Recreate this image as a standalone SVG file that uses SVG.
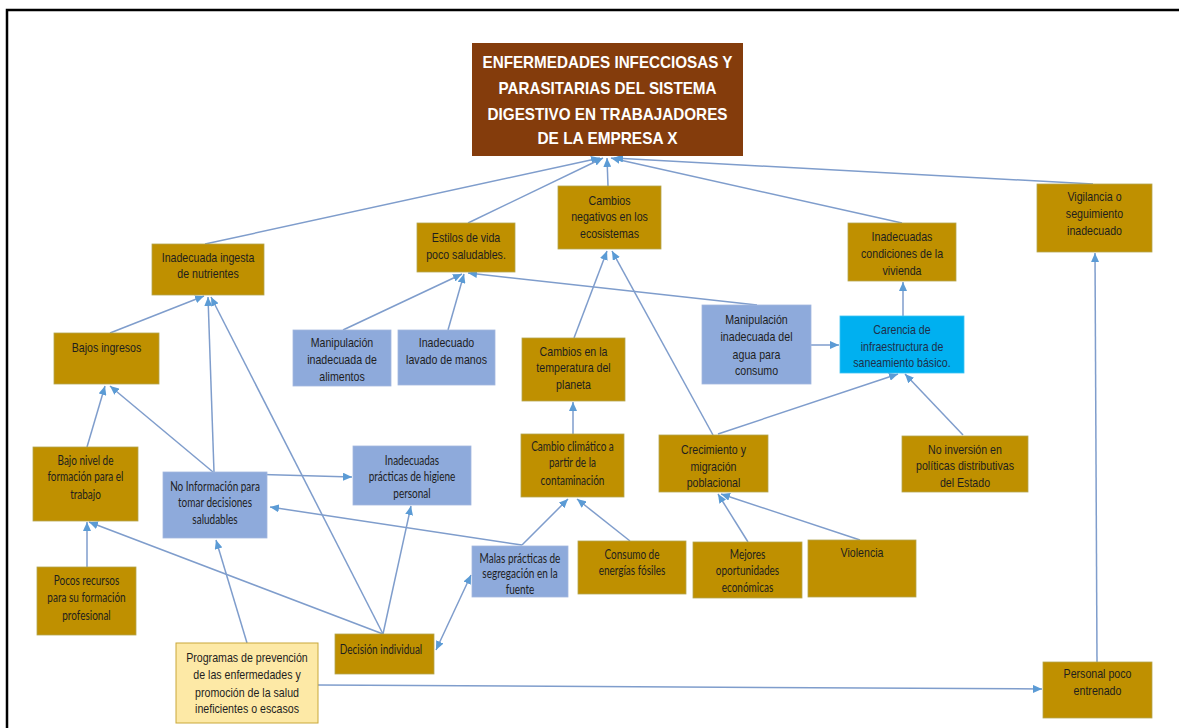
<svg xmlns="http://www.w3.org/2000/svg" width="1179" height="728" viewBox="0 0 1179 728">
<style>
.g{fill:#bf9000;stroke:#b3a650;stroke-width:0.8}
.b{fill:#8eaadb;stroke:#a3b7de;stroke-width:0.8}
.cy{fill:#00b0f0;stroke:#3cc3f3;stroke-width:0.8}
.y{fill:#fde9a6;stroke:#c9a83a;stroke-width:1}
.br{fill:#843c0c}
text{text-anchor:middle;fill:#1e1e1e;transform-box:fill-box;transform-origin:center}
.a{font-family:"Liberation Sans",Arial,sans-serif;font-size:12.5px;transform:scaleX(0.85)}
.c{font-family:Lato,"Open Sans",sans-serif;font-size:12.5px;transform:scaleX(0.8)}
.t{font-family:"Liberation Sans",Arial,sans-serif;font-size:17px;font-weight:bold;fill:#ffffff}
#connectors line{stroke:#7f9dcc;stroke-width:1.5;fill:none;marker-end:url(#ah)}
</style>
<defs>
<marker id="ah" markerUnits="userSpaceOnUse" markerWidth="9" markerHeight="8" refX="9" refY="4" orient="auto-start-reverse">
<path d="M0,0 L9,4 L0,8 z" fill="#5b9bd5"/>
</marker>
</defs>
<rect width="1179" height="728" fill="#ffffff"/>
<path d="M7,728 V10 H1179" fill="none" stroke="#000" stroke-width="2.5"/>
<g id="connectors">
<line x1="205" y1="244" x2="600" y2="158"/>
<line x1="468" y1="223" x2="603" y2="158"/>
<line x1="608" y1="186" x2="607" y2="158"/>
<line x1="902" y1="223" x2="611" y2="158"/>
<line x1="1093" y1="184" x2="614" y2="158"/>
<line x1="110" y1="333" x2="204" y2="296"/>
<line x1="214" y1="472" x2="208" y2="297"/>
<line x1="383" y1="634" x2="211" y2="297"/>
<line x1="87" y1="447" x2="105" y2="386"/>
<line x1="213" y1="472" x2="110" y2="386"/>
<line x1="87" y1="567" x2="87" y2="522"/>
<line x1="383" y1="634" x2="89" y2="522"/>
<line x1="247" y1="643" x2="216" y2="540"/>
<line x1="215" y1="473" x2="352" y2="477"/>
<line x1="383" y1="634" x2="411" y2="506"/>
<line x1="436" y1="650" x2="471" y2="575" style="marker-start:url(#ah)"/>
<line x1="522" y1="545" x2="270" y2="507"/>
<line x1="522" y1="545" x2="568" y2="499"/>
<line x1="630" y1="541" x2="577" y2="499"/>
<line x1="573" y1="434" x2="573" y2="402"/>
<line x1="574" y1="338" x2="607" y2="251"/>
<line x1="713" y1="435" x2="612" y2="251"/>
<line x1="718" y1="434" x2="898" y2="374"/>
<line x1="963" y1="435" x2="905" y2="374"/>
<line x1="903" y1="316" x2="903" y2="282"/>
<line x1="811" y1="345" x2="839" y2="345"/>
<line x1="757" y1="305" x2="468" y2="273"/>
<line x1="343" y1="330" x2="462" y2="274"/>
<line x1="448" y1="330" x2="464" y2="274"/>
<line x1="748" y1="542" x2="718" y2="494"/>
<line x1="860" y1="540" x2="721" y2="494"/>
<line x1="318" y1="685" x2="1042" y2="689"/>
<line x1="1097" y1="662" x2="1095" y2="253"/>
</g>
<g id="title">
<rect class="br" x="472" y="43" width="271" height="113"/>
<text class="t" x="607.5" y="68" textLength="250" lengthAdjust="spacingAndGlyphs">ENFERMEDADES INFECCIOSAS Y</text>
<text class="t" x="607.5" y="94" textLength="218" lengthAdjust="spacingAndGlyphs">PARASITARIAS DEL SISTEMA</text>
<text class="t" x="607.5" y="120" textLength="240" lengthAdjust="spacingAndGlyphs">DIGESTIVO EN TRABAJADORES</text>
<text class="t" x="607.5" y="144" textLength="140" lengthAdjust="spacingAndGlyphs">DE LA EMPRESA X</text>
</g>
<g id="cambios-negativos">
<rect class="g" x="558" y="186" width="103" height="63"/>
<text class="a" x="609.5" y="205">Cambios</text>
<text class="a" x="609.5" y="221">negativos en los</text>
<text class="a" x="609.5" y="238">ecosistemas</text>
</g>
<g id="estilos-vida">
<rect class="g" x="417" y="223" width="98" height="49"/>
<text class="a" x="466" y="242">Estilos de vida</text>
<text class="a" x="466" y="259">poco saludables.</text>
</g>
<g id="vigilancia">
<rect class="g" x="1037" y="184" width="115" height="68"/>
<text class="a" x="1094.5" y="201">Vigilancia o</text>
<text class="a" x="1094.5" y="218">seguimiento</text>
<text class="a" x="1094.5" y="235">inadecuado</text>
</g>
<g id="vivienda">
<rect class="g" x="848" y="223" width="108" height="58"/>
<text class="a" x="902" y="241">Inadecuadas</text>
<text class="a" x="902" y="258">condiciones de la</text>
<text class="a" x="902" y="275">vivienda</text>
</g>
<g id="ingesta">
<rect class="g" x="152" y="244" width="112" height="51"/>
<text class="a" x="208" y="262">Inadecuada ingesta</text>
<text class="a" x="208" y="278">de nutrientes</text>
</g>
<g id="bajos-ingresos">
<rect class="g" x="54" y="333" width="105" height="51"/>
<text class="a" x="106.5" y="352">Bajos ingresos</text>
</g>
<g id="manip-alimentos">
<rect class="b" x="293" y="330" width="98" height="56"/>
<text class="a" x="342" y="347">Manipulación</text>
<text class="a" x="342" y="364">inadecuada de</text>
<text class="a" x="342" y="381">alimentos</text>
</g>
<g id="lavado-manos">
<rect class="b" x="398" y="330" width="97" height="55"/>
<text class="a" x="446.5" y="347">Inadecuado</text>
<text class="a" x="446.5" y="364">lavado de manos</text>
</g>
<g id="temperatura">
<rect class="g" x="522" y="338" width="103" height="63"/>
<text class="a" x="573.5" y="356">Cambios en la</text>
<text class="a" x="573.5" y="372">temperatura del</text>
<text class="a" x="573.5" y="389">planeta</text>
</g>
<g id="manip-agua">
<rect class="b" x="702" y="305" width="109" height="79"/>
<text class="a" x="756.5" y="324">Manipulación</text>
<text class="a" x="756.5" y="341">inadecuada del</text>
<text class="a" x="756.5" y="359">agua para</text>
<text class="a" x="756.5" y="375">consumo</text>
</g>
<g id="carencia">
<rect class="cy" x="840" y="316" width="124" height="57"/>
<text class="a" x="902" y="334" style="fill:#1f2f4a">Carencia de</text>
<text class="a" x="902" y="351" style="fill:#1f2f4a">infraestructura de</text>
<text class="a" x="902" y="367" style="fill:#1f2f4a">saneamiento básico.</text>
</g>
<g id="cambio-climatico">
<rect class="g" x="521" y="434" width="103" height="63"/>
<text class="c" x="572.5" y="451">Cambio climático a</text>
<text class="c" x="572.5" y="467">partir de la</text>
<text class="c" x="572.5" y="485">contaminación</text>
</g>
<g id="crecimiento">
<rect class="g" x="659" y="435" width="109" height="57"/>
<text class="a" x="713.5" y="454">Crecimiento y</text>
<text class="a" x="713.5" y="471">migración</text>
<text class="a" x="713.5" y="487">poblacional</text>
</g>
<g id="no-inversion">
<rect class="g" x="902" y="436" width="126" height="56"/>
<text class="a" x="965" y="454">No inversión en</text>
<text class="a" x="965" y="470">políticas distributivas</text>
<text class="a" x="965" y="487">del Estado</text>
</g>
<g id="bajo-nivel">
<rect class="g" x="33" y="447" width="105" height="74"/>
<text class="c" x="85.5" y="465">Bajo nivel de</text>
<text class="c" x="85.5" y="481">formación para el</text>
<text class="c" x="85.5" y="499">trabajo</text>
</g>
<g id="no-informacion">
<rect class="b" x="163" y="472" width="104" height="66"/>
<text class="c" x="215" y="491">No Información para</text>
<text class="c" x="215" y="507">tomar decisiones</text>
<text class="c" x="215" y="524">saludables</text>
</g>
<g id="higiene">
<rect class="b" x="353" y="446" width="118" height="59"/>
<text class="c" x="412" y="465">Inadecuadas</text>
<text class="c" x="412" y="481">prácticas de higiene</text>
<text class="c" x="412" y="498">personal</text>
</g>
<g id="pocos-recursos">
<rect class="g" x="37" y="567" width="99" height="68"/>
<text class="c" x="86.5" y="585">Pocos recursos</text>
<text class="c" x="86.5" y="602">para su formación</text>
<text class="c" x="86.5" y="620">profesional</text>
</g>
<g id="decision">
<rect class="g" x="335" y="634" width="99" height="40"/>
<text class="c" x="381" y="654">Decisión individual</text>
</g>
<g id="programas">
<rect class="y" x="176" y="643" width="142" height="80"/>
<text class="a" x="247" y="662">Programas de prevención</text>
<text class="a" x="247" y="679">de las enfermedades y</text>
<text class="a" x="247" y="697">promoción de la salud</text>
<text class="a" x="247" y="713">ineficientes o escasos</text>
</g>
<g id="malas-practicas">
<rect class="b" x="472" y="546" width="96" height="51"/>
<text class="c" x="520" y="563">Malas prácticas de</text>
<text class="c" x="520" y="578">segregación en la</text>
<text class="c" x="520" y="594">fuente</text>
</g>
<g id="consumo">
<rect class="g" x="578" y="541" width="108" height="53"/>
<text class="c" x="632" y="559">Consumo de</text>
<text class="c" x="632" y="575">energías fósiles</text>
</g>
<g id="mejores">
<rect class="g" x="693" y="542" width="109" height="56"/>
<text class="c" x="747.5" y="559">Mejores</text>
<text class="c" x="747.5" y="575">oportunidades</text>
<text class="c" x="747.5" y="592">económicas</text>
</g>
<g id="violencia">
<rect class="g" x="808" y="540" width="108" height="57"/>
<text class="a" x="862" y="557">Violencia</text>
</g>
<g id="personal">
<rect class="g" x="1043" y="662" width="109" height="56"/>
<text class="a" x="1097.5" y="678">Personal poco</text>
<text class="a" x="1097.5" y="695">entrenado</text>
</g>
</svg>
